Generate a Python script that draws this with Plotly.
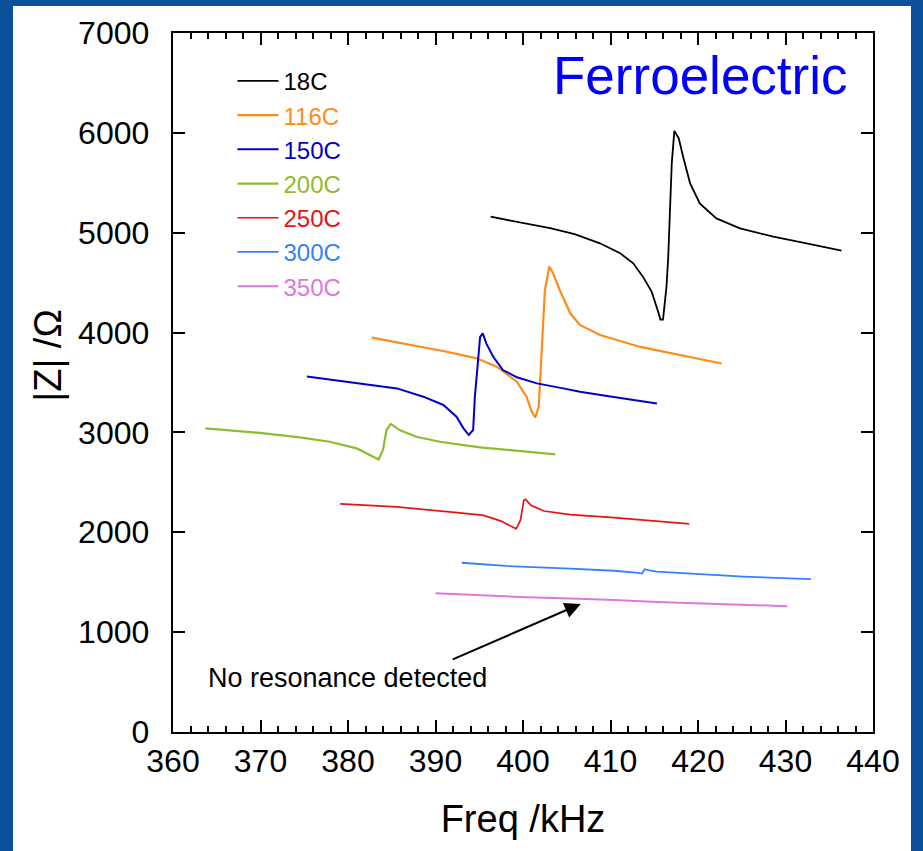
import plotly.graph_objects as go

# ---- data ----
series_names = ["18C", "116C", "150C", "200C", "250C", "300C", "350C"]
series_colors = ["#000000", "#ff8c1a", "#0000cc", "#8fbc2f", "#e81313", "#3380ff", "#dd77dd"]
series_widths = [1.8, 2.2, 2.0, 2.2, 1.7, 1.8, 2.0]

freq_18 = [396.3, 399.7, 403.1, 405.9, 408.8, 411.1, 412.6, 413.7, 414.7, 415.5, 415.7, 416.0,
           416.4, 416.6, 416.8, 417.0, 417.3, 417.8, 418.3, 419.1, 420.2, 422.1, 424.8, 428.6,
           432.4, 436.4]
z_18 = [5160, 5105, 5045, 4985, 4894, 4794, 4694, 4560, 4410, 4193, 4130, 4130,
        4460, 4760, 5260, 5694, 6020, 5945, 5761, 5494, 5293, 5143, 5043, 4960,
        4894, 4820]

freq_116 = [382.7, 387.5, 391.3, 394.7, 397.0, 399.3, 400.4, 401.0, 401.4, 401.8, 402.0, 402.3,
            402.5, 403.0, 403.4, 404.2, 405.4, 406.5, 408.8, 413.4, 418.0, 422.7]
z_116 = [3950, 3875, 3808, 3742, 3658, 3508, 3358, 3208, 3150, 3258, 3592, 4093,
         4426, 4660, 4600, 4426, 4193, 4076, 3976, 3856, 3775, 3690]

freq_150 = [375.3, 377.9, 381.7, 385.6, 388.6, 390.9, 392.4, 393.2, 393.8, 394.3, 394.5, 394.8,
            395.1, 395.4, 395.8, 396.6, 397.7, 399.3, 401.6, 404.6, 406.5, 410.0, 415.3]
z_150 = [3560, 3531, 3491, 3441, 3358, 3275, 3158, 3041, 2974, 3024, 3358, 3658,
         3958, 3992, 3892, 3758, 3625, 3552, 3491, 3441, 3408, 3360, 3290]

freq_200 = [363.7, 369.9, 374.5, 377.9, 381.0, 382.5, 383.5, 384.0, 384.4, 384.9, 385.9, 387.8,
            390.5, 395.1, 399.3, 403.7]
z_200 = [3040, 2995, 2950, 2907, 2840, 2774, 2730, 2824, 3024, 3085, 3024, 2957,
         2907, 2851, 2814, 2780]

freq_250 = [379.1, 385.6, 392.5, 395.5, 397.5, 398.7, 399.2, 399.7, 400.1, 400.3, 400.9, 402.4,
            405.4, 410.4, 415.4, 419.0]
z_250 = [2285, 2254, 2196, 2169, 2112, 2058, 2035, 2119, 2321, 2330, 2270, 2213,
         2176, 2146, 2112, 2085]

freq_300 = [393.0, 398.0, 405.4, 410.4, 412.9, 413.6, 413.9, 414.3, 415.3, 420.3, 425.2, 432.9]
z_300 = [1695, 1663, 1636, 1615, 1596, 1586, 1630, 1620, 1606, 1579, 1556, 1530]

freq_350 = [390.0, 395.0, 400.4, 405.4, 410.4, 415.3, 420.3, 430.2]
z_350 = [1390, 1370, 1350, 1336, 1323, 1302, 1286, 1260]

x_ticks = [360, 370, 380, 390, 400, 410, 420, 430, 440]
y_ticks = [0, 1000, 2000, 3000, 4000, 5000, 6000, 7000]

all_freq = [freq_18, freq_116, freq_150, freq_200, freq_250, freq_300, freq_350]
all_z = [z_18, z_116, z_150, z_200, z_250, z_300, z_350]

FONT = "Liberation Sans, Arial, sans-serif"
SLIDE_BLUE = "#0b519c"

fig = go.Figure()
for name, col, w, fx, zy in zip(series_names, series_colors, series_widths, all_freq, all_z):
    fig.add_trace(go.Scatter(
        x=fx, y=zy, mode="lines",
        name=f"<span style='color:{col}'>{name}</span>",
        line=dict(color=col, width=w),
    ))

# annotations
fig.add_annotation(x=420.3, y=6579, xref="x", yref="y", text="Ferroelectric",
                   showarrow=False, font=dict(family=FONT, size=53, color="#0000ff"),
                   xanchor="center", yanchor="middle")
fig.add_annotation(x=379.9, y=540, xref="x", yref="y", text="No resonance detected",
                   showarrow=False, font=dict(family=FONT, size=27, color="#000000"),
                   xanchor="center", yanchor="middle")
fig.add_annotation(x=406.6, y=1283, ax=391.8, ay=720, xref="x", yref="y", axref="x", ayref="y",
                   text="", showarrow=True, arrowhead=2, arrowsize=1.6, arrowwidth=2,
                   arrowcolor="#000000", standoff=0, startstandoff=0)
fig.add_annotation(x=-0.179, y=0.538, xref="paper", yref="paper", text="|Z| /Ω",
                   textangle=-90, showarrow=False, font=dict(family=FONT, size=38, color="#000000"),
                   xanchor="center", yanchor="middle")

# blue slide frame (left, right, top strips) drawn as filled annotation boxes
frame_strips = [
    dict(x=-0.2614, y=0.4385, xanchor="left", yanchor="middle", width=23, height=900),
    dict(x=1.0543, y=0.4385, xanchor="left", yanchor="middle", width=25, height=900),
    dict(x=0.4121, y=1.0615, xanchor="center", yanchor="top", width=960, height=16),
]
for s in frame_strips:
    fig.add_annotation(xref="paper", yref="paper", text="\u00a0", showarrow=False,
                       bgcolor=SLIDE_BLUE, borderpad=0, borderwidth=0,
                       font=dict(size=2, color=SLIDE_BLUE), **s)

fig.update_xaxes(range=[360, 440], tickmode="linear", tick0=x_ticks[0], dtick=x_ticks[1] - x_ticks[0],
                 showline=True, linewidth=2, linecolor="black", mirror="ticks",
                 ticks="inside", ticklen=12, tickwidth=2, tickcolor="black",
                 showgrid=False, zeroline=False,
                 tickfont=dict(family=FONT, size=32, color="black"),
                 minor=dict(ticks="inside", ticklen=6, tickwidth=1.5, tickcolor="black", dtick=2, showgrid=False),
                 title=dict(text="Freq /kHz", font=dict(family=FONT, size=38, color="black"), standoff=27))
fig.update_yaxes(range=[0, 7000], tickmode="linear", tick0=y_ticks[0], dtick=y_ticks[1] - y_ticks[0],
                 showline=True, linewidth=2, linecolor="black", mirror="ticks",
                 ticks="inside", ticklen=12, tickwidth=2, tickcolor="black",
                 showgrid=False, zeroline=False, ticksuffix="\u00a0\u2009",
                 tickfont=dict(family=FONT, size=32, color="black"))

fig.update_layout(
    width=923, height=851,
    margin=dict(l=173, r=50, t=33, b=119),
    paper_bgcolor="white", plot_bgcolor="white",
    font=dict(family=FONT),
    showlegend=True,
    legend=dict(x=0.085, y=0.963, xanchor="left", yanchor="top",
                bgcolor="rgba(0,0,0,0)", borderwidth=0, itemwidth=41,
                font=dict(family=FONT, size=24), traceorder="normal"),
)

fig.write_html("out.html")
